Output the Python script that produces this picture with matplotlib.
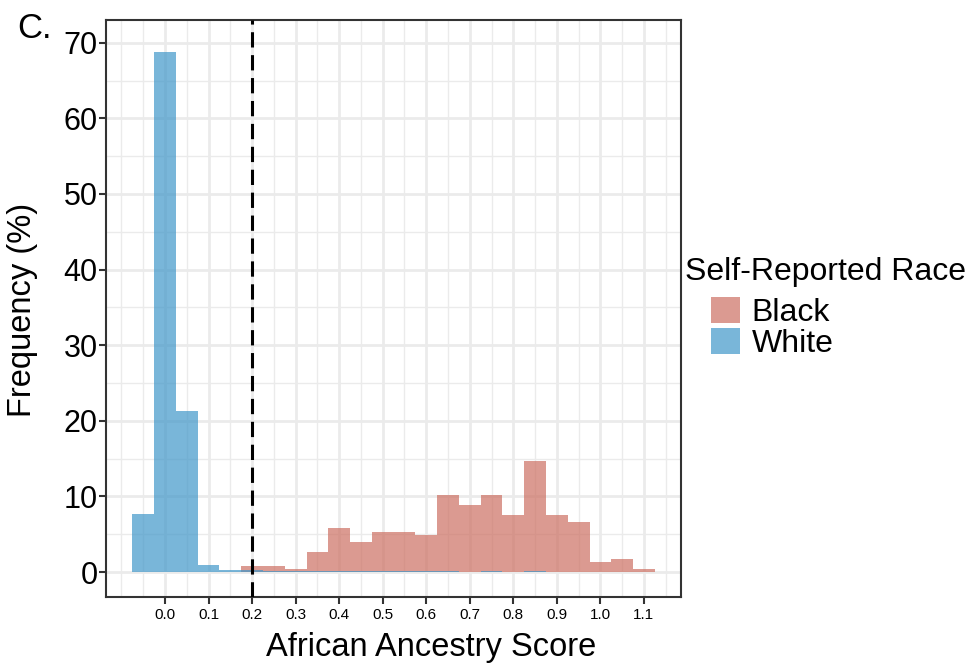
import numpy as np
import matplotlib.pyplot as plt
from matplotlib.patches import Patch

plt.rcParams['font.family'] = ['Liberation Sans', 'DejaVu Sans']

# istogramma: centri dei bin (larghezza 0.05) e frequenze in %
bin_w = 0.05
centri = [-0.05, 0.0, 0.05, 0.1, 0.15, 0.2, 0.25, 0.3, 0.35, 0.4, 0.45, 0.5,
          0.55, 0.6, 0.65, 0.7, 0.75, 0.8, 0.85, 0.9, 0.95, 1.0, 1.05, 1.1]

bianchi = [7.7, 68.8, 21.3, 0.9, 0.3, 0.25, 0.1, 0.1, 0.1, 0.1, 0.1, 0.1,
           0.1, 0.1, 0.1, 0.0, 0.1, 0.0, 0.1, 0.0, 0.0, 0.0, 0.0, 0.0]
neri = [0.0, 0.0, 0.0, 0.0, 0.0, 0.8, 0.8, 0.35, 2.7, 5.8, 4.0, 5.3,
        5.3, 4.9, 10.2, 8.9, 10.2, 7.5, 14.7, 7.5, 6.6, 1.3, 1.7, 0.4]

taglio = 0.2   # soglia tratteggiata
etichette_x = ['0.0', '0.1', '0.2', '0.3', '0.4', '0.5', '0.6', '0.7', '0.8', '0.9', '1.0', '1.1']
tick_x = np.arange(0, 1.101, 0.1)
tick_y = np.arange(0, 71, 10)

col_neri = '#cd7062'
col_bianchi = '#4197c9'
alfa = 0.7

fig = plt.figure(figsize=(9.7, 6.68), dpi=100)
ax = fig.add_axes([0.1093, 0.1063, 0.5927, 0.8637])

# griglia stile ggplot
for v in np.arange(-0.1, 1.16, 0.05):
    if np.any(np.isclose(v, tick_x)):
        ax.axvline(v, color='#ebebeb', lw=2, zorder=0)
    else:
        ax.axvline(v, color='#ebebeb', lw=1, zorder=0)
for v in np.arange(0, 71, 5):
    ax.axhline(v, color='#ebebeb', lw=2 if v % 10 == 0 else 1, zorder=0)

ax.bar(centri, neri, width=bin_w, color=col_neri, alpha=alfa, lw=0, zorder=2)
ax.bar(centri, bianchi, width=bin_w, color=col_bianchi, alpha=alfa, lw=0, zorder=3)

ax.axvline(taglio, color='black', lw=2.2, ls=(0, (5, 2.5)), zorder=4)

ax.set_xlim(-0.1355, 1.185)
ax.set_ylim(-3.3, 73.0)
ax.set_xticks(tick_x)
ax.set_xticklabels(etichette_x, fontsize=11)
ax.set_yticks(tick_y)
ax.set_yticklabels([str(v) for v in tick_y], fontsize=22)
ax.tick_params(axis='both', direction='out', length=5, width=1.5, color='#333333', pad=3)
ax.tick_params(axis='y', pad=1)
for s in ax.spines.values():
    s.set_color('#333333')
    s.set_linewidth(1.5)

# titoli degli assi
fig.text(0.4443, 0.030, 'African Ancestry Score', fontsize=23.5, ha='center', va='center')
fig.text(0.023, 0.536, 'Frequency (%)', fontsize=23.5, rotation=90, ha='center', va='center')

fig.text(0.018, 0.982, 'C.', fontsize=25, va='top', ha='left')

# legenda
fig.text(0.706, 0.593, 'Self-Reported Race', fontsize=23, va='center', ha='left')
maniglie = [Patch(facecolor=col_neri, alpha=alfa, lw=0, label='Black'),
            Patch(facecolor=col_bianchi, alpha=alfa, lw=0, label='White')]
fig.legend(handles=maniglie, loc='upper left', bbox_to_anchor=(0.7165, 0.580),
           frameon=False, fontsize=23, borderpad=0, handlelength=0.9,
           handleheight=0.9, labelspacing=0.0, handletextpad=0.37)

plt.savefig('out.png', dpi=100)
